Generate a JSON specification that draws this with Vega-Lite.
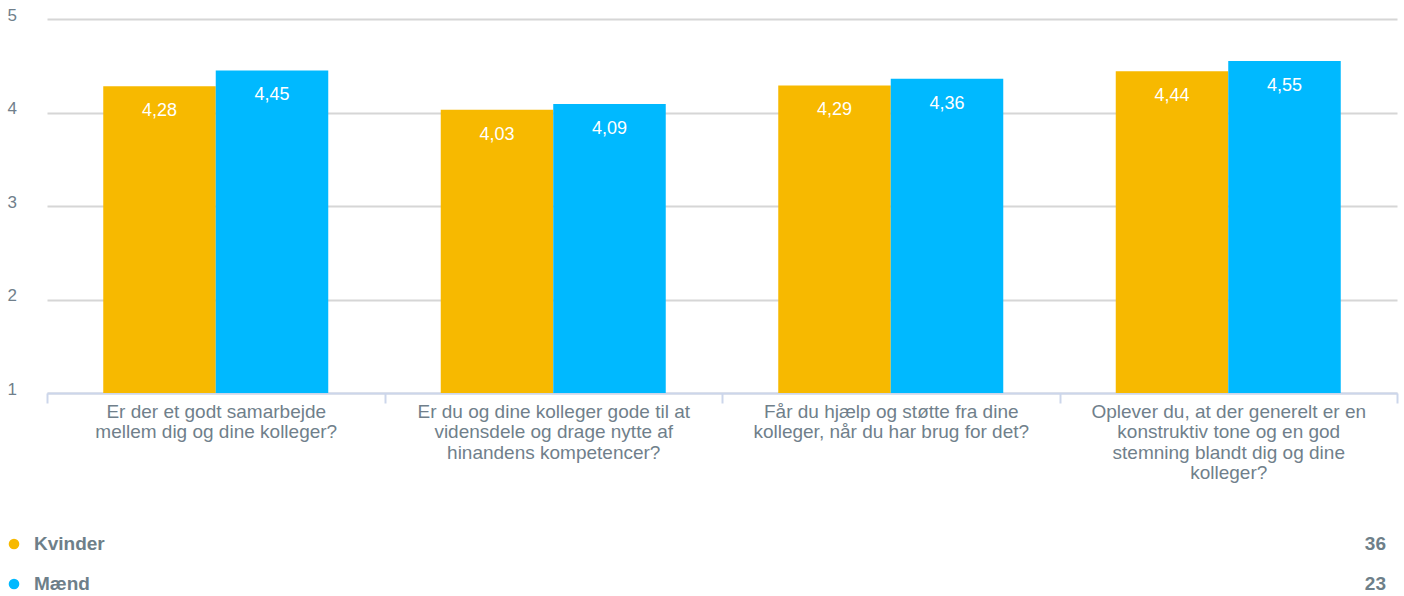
{
  "$schema": "https://vega.github.io/schema/vega-lite/v6.json",
  "padding": {"left": 7, "top": 6, "right": 7, "bottom": 0},
  "autosize": {"type": "pad"},
  "columns": 1,
  "align": "none",
  "spacing": 51,
  "config": {
    "font": "Liberation Sans",
    "view": {"stroke": null},
    "locale": {"number": {"decimal": ",", "thousands": ".", "grouping": [3], "currency": ["", " kr."]}}
  },
  "datasets": {
    "scores": [
      {"question": "Er der et godt samarbejde mellem dig og dine kolleger?", "gender": "Kvinder", "score": 4.28},
      {"question": "Er der et godt samarbejde mellem dig og dine kolleger?", "gender": "Mænd", "score": 4.45},
      {"question": "Er du og dine kolleger gode til at vidensdele og drage nytte af hinandens kompetencer?", "gender": "Kvinder", "score": 4.03},
      {"question": "Er du og dine kolleger gode til at vidensdele og drage nytte af hinandens kompetencer?", "gender": "Mænd", "score": 4.09},
      {"question": "Får du hjælp og støtte fra dine kolleger, når du har brug for det?", "gender": "Kvinder", "score": 4.29},
      {"question": "Får du hjælp og støtte fra dine kolleger, når du har brug for det?", "gender": "Mænd", "score": 4.36},
      {"question": "Oplever du, at der generelt er en konstruktiv tone og en god stemning blandt dig og dine kolleger?", "gender": "Kvinder", "score": 4.44},
      {"question": "Oplever du, at der generelt er en konstruktiv tone og en god stemning blandt dig og dine kolleger?", "gender": "Mænd", "score": 4.55}
    ],
    "counts": [
      {"gender": "Kvinder", "n": 36},
      {"gender": "Mænd", "n": 23}
    ]
  },
  "concat": [
    {
      "width": 1350,
      "height": 374,
      "data": {"name": "scores"},
      "encoding": {
        "x": {
          "field": "question", "type": "nominal", "sort": null,
          "scale": {"paddingInner": 0, "paddingOuter": 0},
          "axis": {
            "title": null, "labelAngle": 0, "labelLimit": 0,
            "labelFontSize": 19, "labelLineHeight": 20.5, "labelColor": "#707f8b",
            "labelPadding": -1, "labelBaseline": "top",
            "domainColor": "#ccd6eb", "domainWidth": 2,
            "tickColor": "#ccd6eb", "tickWidth": 2, "tickSize": 10, "tickBand": "extent",
            "labelExpr": "datum.value == 'Er der et godt samarbejde mellem dig og dine kolleger?' ? ['Er der et godt samarbejde', 'mellem dig og dine kolleger?'] : datum.value == 'Er du og dine kolleger gode til at vidensdele og drage nytte af hinandens kompetencer?' ? ['Er du og dine kolleger gode til at', 'vidensdele og drage nytte af', 'hinandens kompetencer?'] : datum.value == 'Får du hjælp og støtte fra dine kolleger, når du har brug for det?' ? ['Får du hjælp og støtte fra dine', 'kolleger, når du har brug for det?'] : datum.value == 'Oplever du, at der generelt er en konstruktiv tone og en god stemning blandt dig og dine kolleger?' ? ['Oplever du, at der generelt er en', 'konstruktiv tone og en god', 'stemning blandt dig og dine', 'kolleger?'] : ''"
          }
        },
        "xOffset": {
          "field": "gender", "type": "nominal", "sort": ["Kvinder", "Mænd"],
          "scale": {"paddingInner": 0, "paddingOuter": 0.5}
        }
      },
      "layer": [
        {
          "mark": {"type": "bar"},
          "encoding": {
            "y": {
              "field": "score", "type": "quantitative",
              "scale": {"domain": [1, 5], "zero": false, "nice": false},
              "axis": {
                "title": null, "values": [1, 2, 3, 4, 5], "format": "d",
                "grid": true, "gridColor": "#d6d6d6", "gridWidth": 2,
                "domain": false, "ticks": false,
                "labelAlign": "left", "labelPadding": 40, "labelBaseline": "middle", "labelOffset": -4,
                "labelFontSize": 17, "labelColor": "#707f8b"
              }
            },
            "y2": {"datum": 1},
            "color": {
              "field": "gender", "type": "nominal",
              "scale": {"domain": ["Kvinder", "Mænd"], "range": ["#f7b900", "#00b9ff"]},
              "legend": null
            }
          }
        },
        {
          "mark": {"type": "text", "baseline": "middle", "dy": 25, "color": "#ffffff", "fontSize": 18},
          "encoding": {
            "y": {"field": "score", "type": "quantitative"},
            "text": {"field": "score", "type": "quantitative", "format": ".2f"}
          }
        }
      ]
    },
    {
      "width": 1339,
      "height": 60,
      "data": {"name": "counts"},
      "encoding": {
        "y": {"field": "gender", "type": "nominal", "sort": ["Kvinder", "Mænd"], "scale": {"type": "point", "padding": 0.25}, "axis": null}
      },
      "layer": [
        {
          "mark": {"type": "point", "shape": "circle", "filled": true, "size": 113, "opacity": 1, "xOffset": -33},
          "encoding": {
            "x": {"datum": 0, "type": "quantitative", "scale": {"domain": [0, 1], "nice": false, "zero": false}, "axis": null},
            "color": {"field": "gender", "type": "nominal", "legend": null}
          }
        },
        {
          "mark": {"type": "text", "align": "left", "baseline": "middle", "dx": -13, "fontSize": 19, "fontWeight": "bold", "color": "#6e7f89"},
          "encoding": {
            "x": {"datum": 0, "type": "quantitative"},
            "text": {"field": "gender"}
          }
        },
        {
          "mark": {"type": "text", "align": "right", "baseline": "middle", "fontSize": 19, "fontWeight": "bold", "color": "#6e7f89"},
          "encoding": {
            "x": {"datum": 1, "type": "quantitative"},
            "text": {"field": "n", "type": "quantitative"}
          }
        }
      ]
    }
  ]
}
